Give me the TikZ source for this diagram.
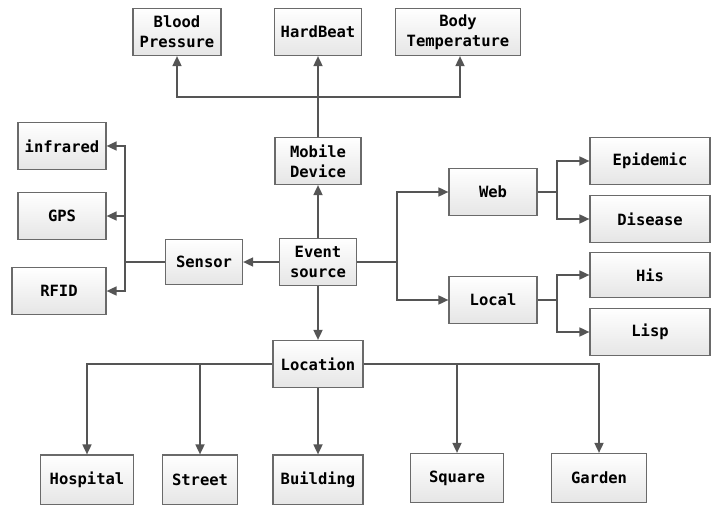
\documentclass[tikz,border=0pt]{standalone}
\usepackage{fontspec}
\newfontfamily\boxfont{DejaVu Sans Mono}
\usetikzlibrary{arrows.meta}
\definecolor{linegray}{HTML}{555555}
\definecolor{boxgray}{HTML}{6A6A6A}
\tikzset{
  box/.style={
    rectangle, draw=boxgray, line width=1.2pt, top color=white, bottom color=gray!20,
    align=center, inner sep=0pt, minimum height=47pt,
    font=\boxfont\bfseries\fontsize{15.5}{20}\selectfont
  },
  link/.style={draw=linegray, line width=1.7pt},
  arrow/.style={link, -{Triangle[length=10pt, width=9pt]}}
}

\begin{document}
\begin{tikzpicture}[x=1pt, y=-1pt]
    \useasboundingbox (0,0) rectangle (711,505);
    % top level
    \node[box, minimum width=88pt] (blood) at (177,32) {Blood\\Pressure};
    \node[box, minimum width=87pt] (heart) at (318,32) {HardBeat};
    \node[box, minimum width=125pt] (body) at (458,32) {Body\\Temperature};
    \node[box, minimum width=86pt] (mobile) at (318,161) {Mobile\\Device};
    \node[box, minimum width=77pt] (event) at (318,262) {Event\\source};
    % sensor side
    \node[box, minimum width=77pt, minimum height=45pt] (sensor) at (204,262) {Sensor};
    \node[box, minimum width=88pt] (infrared) at (62,146) {infrared};
    \node[box, minimum width=88pt] (gps) at (62,216) {GPS};
    \node[box, minimum width=94pt] (rfid) at (59,291) {RFID};
    % data side
    \node[box, minimum width=88pt] (web) at (493,192) {Web};
    \node[box, minimum width=88pt] (local) at (493,300) {Local};
    \node[box, minimum width=120pt] (epidemic) at (650,161) {Epidemic};
    \node[box, minimum width=120pt] (disease) at (650,219) {Disease};
    \node[box, minimum width=120pt, minimum height=45pt] (his) at (650,275) {His};
    \node[box, minimum width=120pt] (lisp) at (650,332) {Lisp};
    % places
    \node[box, minimum width=90pt] (location) at (318,364) {Location};
    \node[box, minimum width=93pt, minimum height=50pt] (hospital) at (87,480) {Hospital};
    \node[box, minimum width=75pt, minimum height=50pt] (street) at (200,480) {Street};
    \node[box, minimum width=90pt, minimum height=50pt] (building) at (318,480) {Building};
    \node[box, minimum width=93pt, minimum height=49pt] (square) at (457,478) {Square};
    \node[box, minimum width=95pt, minimum height=49pt] (garden) at (599,478) {Garden};

    \coordinate (topbus) at (318,97);
    \coordinate (sbus) at (125,262);
    \coordinate (ebus) at (397,262);
    \coordinate (wbus) at (557,192);
    \coordinate (lbus) at (557,300);

    \draw[arrow] (event) -- (mobile);
    \draw[arrow] (mobile) -- (heart);
    \draw[arrow] (topbus) -| (blood.south);
    \draw[arrow] (topbus) -| ([xshift=2pt]body.south);
    \draw[arrow] (event) -- (sensor);
    \draw[link] (sensor.west) -- (sbus);
    \draw[arrow] (sbus) |- (infrared.east);
    \draw[arrow] (sbus) |- (gps.east);
    \draw[arrow] (sbus) |- (rfid.east);
    \draw[link] (event.east) -- (ebus);
    \draw[arrow] (ebus) |- (web.west);
    \draw[arrow] (ebus) |- (local.west);
    \draw[link] (web.east) -- (wbus);
    \draw[arrow] (wbus) |- (epidemic.west);
    \draw[arrow] (wbus) |- (disease.west);
    \draw[link] (local.east) -- (lbus);
    \draw[arrow] (lbus) |- (his.west);
    \draw[arrow] (lbus) |- (lisp.west);
    \draw[arrow] (event) -- (location);
    \draw[arrow] (location.west) -| (hospital.north);
    \draw[arrow] (location.west) -| (street.north);
    \draw[arrow] (location) -- (building);
    \draw[arrow] (location.east) -| (square.north);
    \draw[arrow] (location.east) -| (garden.north);
\end{tikzpicture}
\end{document}
